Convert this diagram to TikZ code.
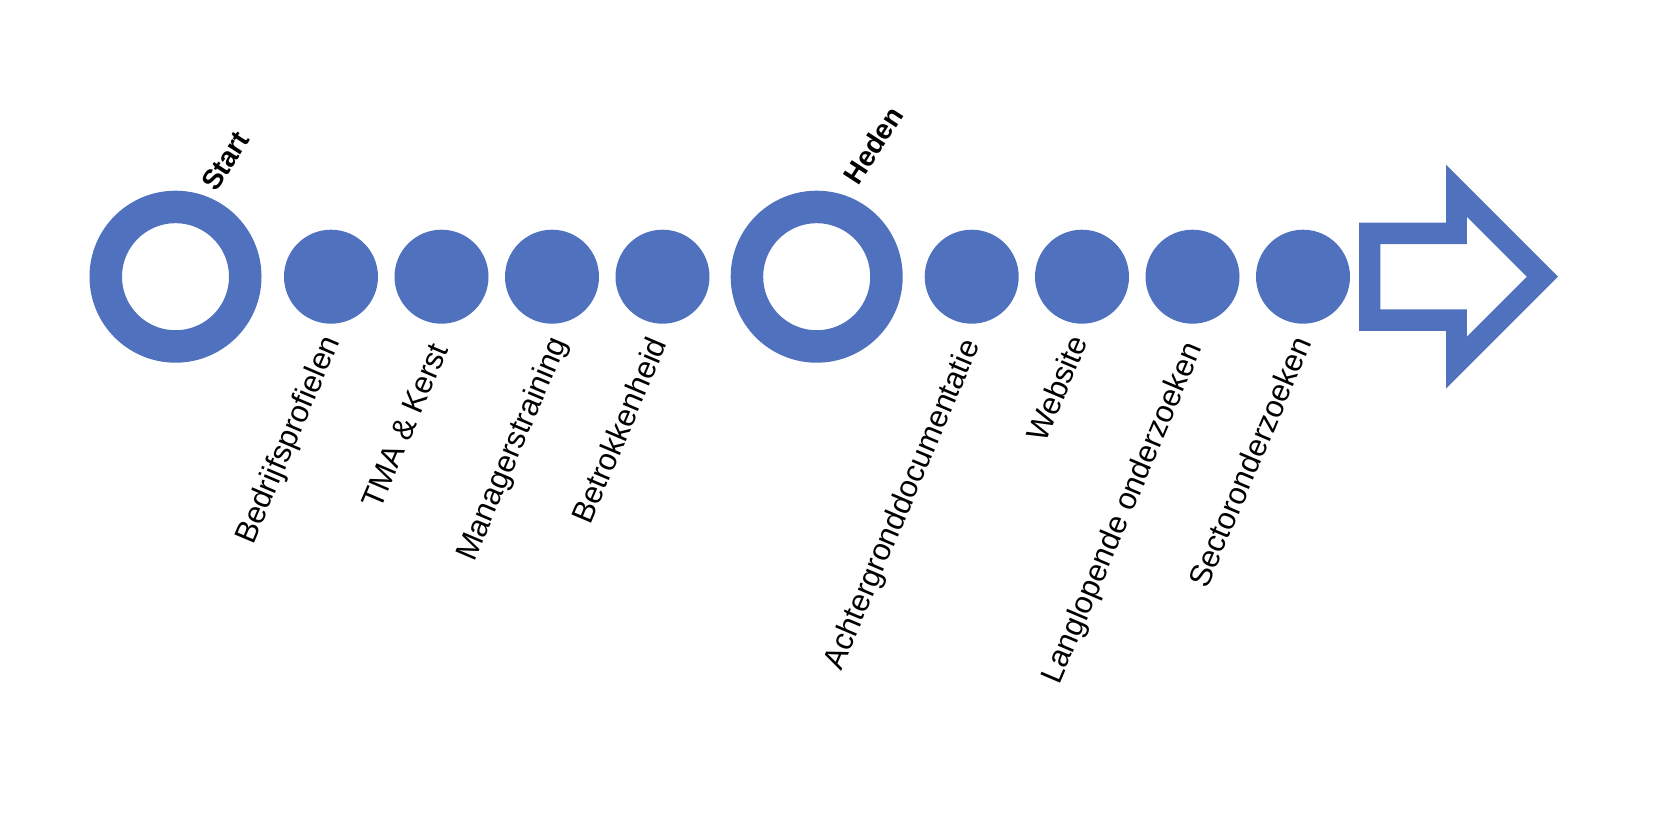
\documentclass[tikz,border=0pt]{standalone}
\usepackage{fontspec}
\setmainfont{Liberation Sans}
\definecolor{tlblue}{HTML}{4F71BE}
\begin{document}
\begin{tikzpicture}[x=1pt,y=-1pt,
  ring/.style={circle, draw=tlblue, line width=32.5pt, minimum size=139.5pt, inner sep=0pt},
  dot/.style={circle, fill=tlblue, minimum size=94pt, inner sep=0pt},
  lbl/.style={anchor=base west, rotate=67, inner sep=0pt, font=\fontsize{31}{37}\selectfont},
  milestone/.style={anchor=base west, rotate=57, inner sep=0pt, font=\bfseries\fontsize{28}{34}\selectfont}]
\path[use as bounding box] (0,0) rectangle (1676,814);
% rings
\node[ring] (start) at (175.5,276.7) {};
\node[ring] (heden) at (816.7,276.7) {};
% dots
\node[dot] (d1) at (331,276.7) {};
\node[dot] (d2) at (441.5,276.7) {};
\node[dot] (d3) at (552,276.7) {};
\node[dot] (d4) at (662.5,276.7) {};
\node[dot] (d5) at (971.7,276.7) {};
\node[dot] (d6) at (1082,276.7) {};
\node[dot] (d7) at (1192.5,276.7) {};
\node[dot] (d8) at (1303,276.7) {};
% outlined arrow
\fill[tlblue, even odd rule]
  (1359,222.5) -- (1446,222.5) -- (1446,164.7) -- (1558,276.7) -- (1446,388.7) -- (1446,330.8) -- (1359,330.8) -- cycle
  (1380.4,244) -- (1466.8,244) -- (1466.8,216.6) -- (1526.9,276.7) -- (1466.8,336.8) -- (1466.8,309.3) -- (1380.4,309.3) -- cycle;
% milestone labels
\node[milestone] (tstart) at (216,193) {Start};
\node[milestone] (theden) at (858,187) {Heden};
% item labels
\node[lbl] (l1) at (253,546) {Bedrijfsprofielen};
\node[lbl] (l2) at (380,511) {TMA \& Kerst};
\node[lbl] (l3) at (474,563) {Managerstraining};
\node[lbl] (l4) at (590,526) {Betrokkenheid};
\node[lbl] (l5) at (841,672) {Achtergronddocumentatie};
\node[lbl] (l6) at (1045,444) {Website};
\node[lbl] (l7) at (1059,686) {Langlopende onderzoeken};
\node[lbl] (l8) at (1207,590) {Sectoronderzoeken};
\end{tikzpicture}
\end{document}
